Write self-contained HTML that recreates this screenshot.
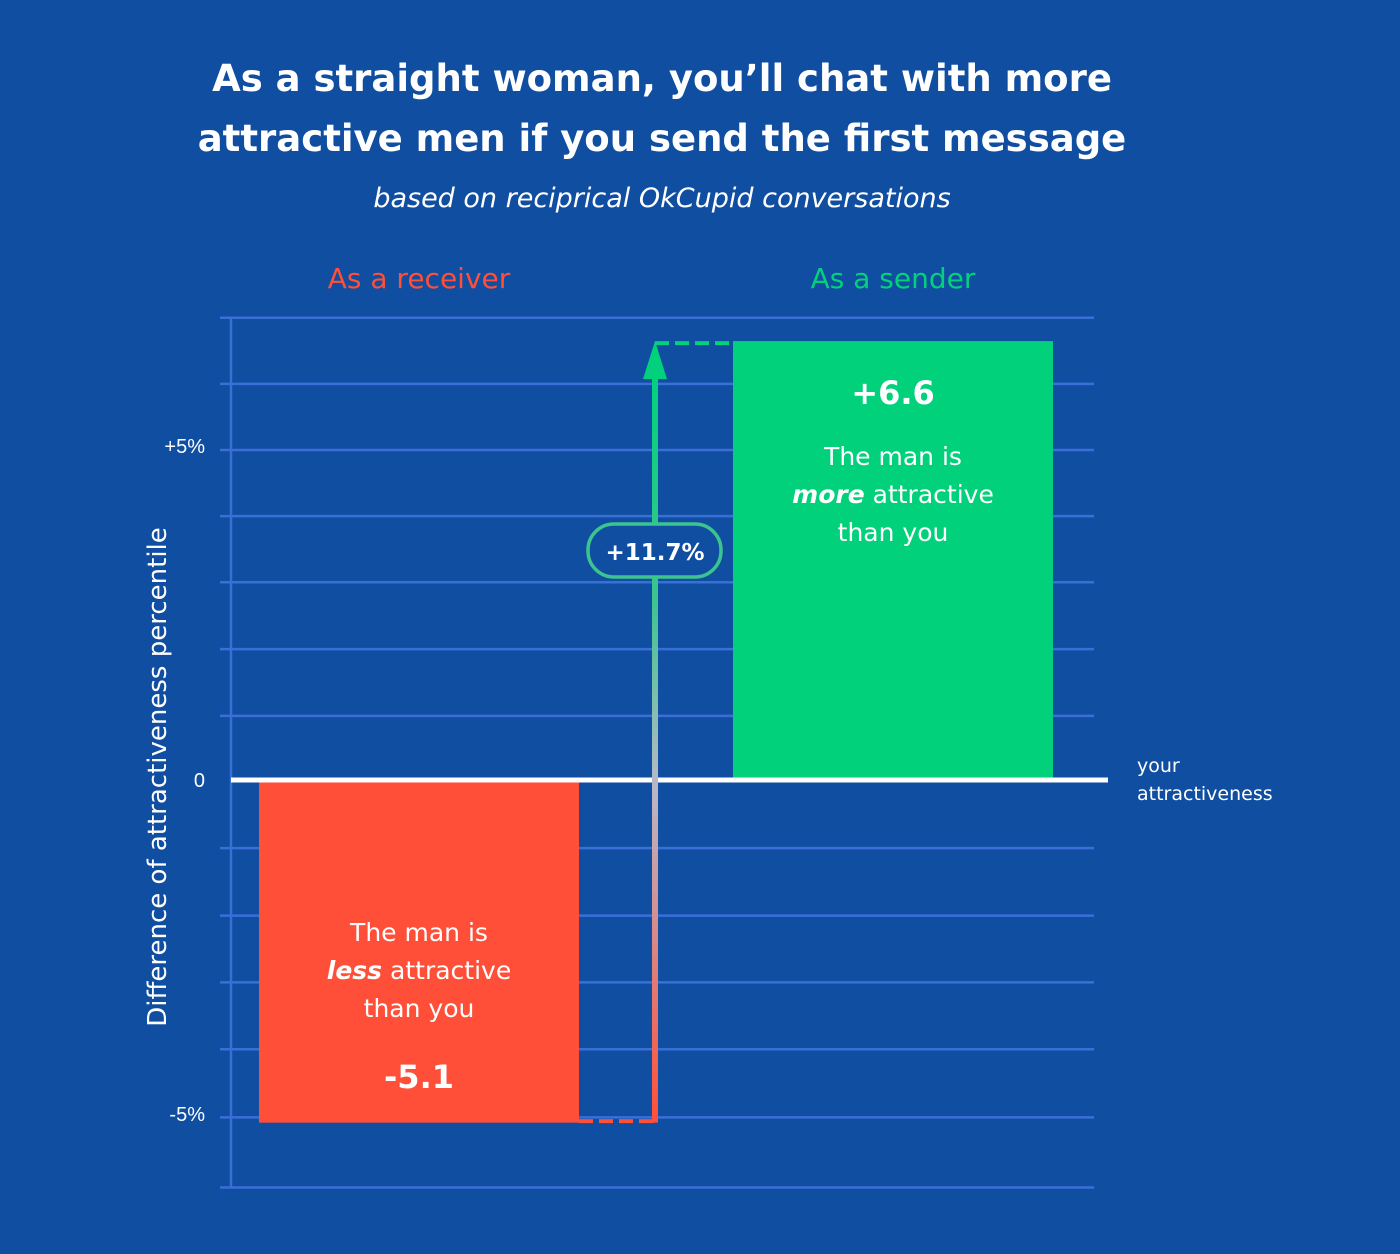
<!DOCTYPE html>
<html><head><meta charset="utf-8">
<style>
html,body{margin:0;padding:0;background:#104ea1;}
svg{display:block;font-family:"DejaVu Sans","Liberation Sans",sans-serif;}
</style></head>
<body>
<svg width="1400" height="1254" viewBox="0 0 1400 1254">
<defs>
<linearGradient id="arrowGrad" x1="0" y1="1" x2="0" y2="0">
<stop offset="0" stop-color="#ff4f38"/>
<stop offset="0.45" stop-color="#b8b8c8"/>
<stop offset="0.7" stop-color="#3cc48f"/>
<stop offset="1" stop-color="#02d17c"/>
</linearGradient>
</defs>
<rect width="1400" height="1254" fill="#104ea1"/>
<text x="662" y="91" text-anchor="middle" fill="#fff" font-size="37" font-weight="600">As a straight woman, you’ll chat with more</text>
<text x="662" y="151" text-anchor="middle" fill="#fff" font-size="37" font-weight="600">attractive men if you send the first message</text>
<text x="662" y="207" text-anchor="middle" fill="#fff" font-size="27" font-style="italic" font-weight="300">based on reciprical OkCupid conversations</text>
<text x="419" y="288" text-anchor="middle" fill="#ff4f38" font-size="28">As a receiver</text>
<text x="893" y="288" text-anchor="middle" fill="#02d17c" font-size="28">As a sender</text>
<g id="grid"></g>
<g id="axis"></g>
<g id="bars"></g>
<text transform="translate(166,777) rotate(-90)" text-anchor="middle" fill="#fff" font-size="26">Difference of attractiveness percentile</text>
<text x="1137" y="772" fill="#fff" font-size="19">your</text>
<text x="1137" y="800" fill="#fff" font-size="19">attractiveness</text>
</svg>
<script>
const categories = ["As a receiver", "As a sender"];
const values = [-5.1, 6.6];
const tickValues = [5, 0, -5];
const tickLabels = ["+5%", "0", "-5%"];
const gridValues = [6.95, 5.96, 4.97, 3.98, 2.99, 1.99, 0.99, -0.99, -2, -3, -4, -5.02, -6.07];
const diffLabel = ["+11.7%"];

const NS = "http://www.w3.org/2000/svg";
const zeroY = 782, unit = 66.8;
function y(v){ return zeroY - v*unit; }
const barX = [259, 733], barW = 320;
function mk(tag, attrs, parent){ const e=document.createElementNS(NS,tag); for(const k in attrs) e.setAttribute(k,attrs[k]); parent.appendChild(e); return e; }

const grid = document.getElementById('grid');
gridValues.forEach(v=>{
  const l = mk('line',{x1:220,x2:1094,y1:y(v),y2:y(v),stroke:'#3a6fd8','stroke-width':2.5},grid);
  
  
});
const axis = document.getElementById('axis');
const al = mk('line',{x1:231,x2:231,y1:y(gridValues[0]),y2:y(gridValues[gridValues.length-1]),stroke:'#3a6fd8','stroke-width':2.5},axis);


tickValues.forEach((v,i)=>{
  const t = mk('text',{x:205,y:y(v)+(v===0?5:5),'text-anchor':'end',fill:'#fff','font-size':20,'font-family':'"Liberation Sans", sans-serif'},axis);
  t.textContent = tickLabels[i];
  
  
});

const bars = document.getElementById('bars');
const colors = ['#ff4f38','#02d17c'];
values.forEach((v,i)=>{
  const top = Math.min(y(v), zeroY), h = Math.abs(y(v)-zeroY);
  const r = mk('rect',{x:barX[i],y:top,width:barW,height:h,fill:colors[i]},bars);
  
  
});
const zl = mk('line',{x1:231,x2:1108,y1:zeroY-2,y2:zeroY-2,stroke:'#fff','stroke-width':5},bars);



const ax = 655;
const yr = y(values[0]), ys = y(values[1]);
const d1 = mk('line',{x1:barX[0]+barW,x2:ax,y1:yr-1.5,y2:yr-1.5,stroke:'#ff4f38','stroke-width':4,'stroke-dasharray':'14,6'},bars);


const d2 = mk('line',{x1:ax,x2:barX[1],y1:ys+2,y2:ys+2,stroke:'#02d17c','stroke-width':4,'stroke-dasharray':'14,6'},bars);


const sh = mk('rect',{x:ax-3,y:ys+35,width:6,height:yr-ys-35,fill:'url(#arrowGrad)'},bars);


const hd = mk('polygon',{points:`${ax},${ys} ${ax-12},${ys+38} ${ax+12},${ys+38}`,fill:'#02d17c'},bars);


const pill = mk('rect',{x:588,y:524,width:133,height:53,rx:26,fill:'#104ea1',stroke:'#3cc48f','stroke-width':3.5},bars);


const pt = mk('text',{x:655,y:560,'text-anchor':'middle',fill:'#fff','font-size':23,'font-weight':'bold'},bars);
pt.textContent = diffLabel[0];



function fmt(v){ return (v>0?'+':'')+v.toFixed(1); }
const cx = [barX[0]+barW/2, barX[1]+barW/2];
const sv = mk('text',{x:cx[1],y:404,'text-anchor':'middle',fill:'#fff','font-size':32,'font-weight':'bold'},bars);
sv.textContent = fmt(values[1]);


const rv = mk('text',{x:cx[0],y:1088,'text-anchor':'middle',fill:'#fff','font-size':32,'font-weight':'bold'},bars);
rv.textContent = fmt(values[0]);


function desc(xc, y0, word, name){
  const lines = [['The man is'],[word,' attractive'],['than you']];
  lines.forEach((ln,i)=>{
    const t = mk('text',{x:xc,y:y0+i*38,'text-anchor':'middle',fill:'#fff','font-size':25},bars);
    
    
    if(ln.length===1) t.textContent = ln[0];
    else { const a=mk('tspan',{'font-style':'italic','font-weight':'bold'},t); a.textContent=ln[0]; const b=mk('tspan',{},t); b.textContent=ln[1]; }
  });
}
desc(cx[1], 465, 'more', 'sender-description');
desc(cx[0], 941, 'less', 'receiver-description');
</script>
</body></html>
